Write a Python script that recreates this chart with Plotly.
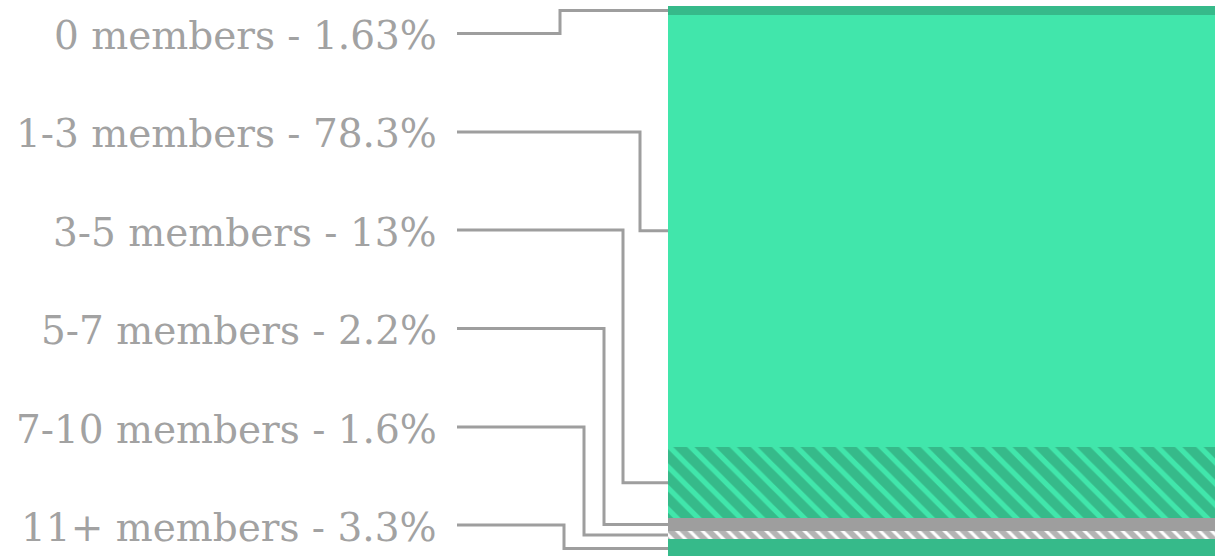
import plotly.graph_objects as go

# ---- data (bottom of stack first) ----
categories = ["11+ members", "7-10 members", "5-7 members", "3-5 members", "1-3 members", "0 members"]
values = [3.3, 1.6, 2.2, 13, 78.3, 1.63]
value_labels = ["3.3%", "1.6%", "2.2%", "13%", "78.3%", "1.63%"]

# ---- styles ----
W, H = 1215, 556
LIGHT = "#41E6AB"
DARK = "#36BA8A"
GRAY = "#9E9E9E"
TEXT = "#A2A2A2"
fills = [
    dict(color=DARK),
    dict(color="#B4B4B4", pattern=dict(shape="\\", fgcolor="#FFFFFF", bgcolor="#B4B4B4", size=9, solidity=0.35, fillmode="replace")),
    dict(color=GRAY),
    dict(color=DARK, pattern=dict(shape="\\", fgcolor=LIGHT, bgcolor=DARK, size=15, solidity=0.35, fillmode="replace")),
    dict(color=LIGHT),
    dict(color=DARK),
]

Y_MIN, Y_MAX = 0.3, 101.1
BAR_LEFT_PX = 668
LABEL_RIGHT_PX = 439
LINE_START_PX = 457
label_px = [525, 427, 328.5, 230, 132, 33.5]      # pixel rows of labels (bottom->top order)
elbow_px = [564, 584, 604, 623, 640, 560]          # vertical leader positions

fig = go.Figure()
for cat, v, f in zip(categories, values, fills):
    fig.add_trace(go.Bar(
        x=[0], y=[v], name=cat, width=1,
        marker=dict(color=f["color"], line=dict(width=0), pattern=f.get("pattern")),
        hoverinfo="skip", showlegend=False,
    ))

def px_to_y(p):
    return Y_MAX - p / H * (Y_MAX - Y_MIN)

shapes, annotations = [], []
cum = 0.0
for cat, v, lab, lp, ex in zip(categories, values, value_labels, label_px, elbow_px):
    mid = cum + v / 2
    cum += v
    ly = px_to_y(lp)
    path = (f"M {LINE_START_PX / W},{ly} L {ex / W},{ly} "
            f"L {ex / W},{mid} L {BAR_LEFT_PX / W},{mid}")
    shapes.append(dict(type="path", path=path, xref="paper", yref="y",
                       line=dict(color=GRAY, width=3), layer="above"))
    annotations.append(dict(
        x=LABEL_RIGHT_PX / W, y=1 - lp / H, xref="paper", yref="paper",
        xanchor="right", yanchor="middle", showarrow=False, yshift=-2,
        text=f"{cat} - {lab}",
        font=dict(family="DejaVu Serif", size=39, color=TEXT),
    ))

fig.update_layout(
    barmode="stack", bargap=0,
    width=W, height=H, margin=dict(l=0, r=0, t=0, b=0),
    paper_bgcolor="white", plot_bgcolor="white",
    xaxis=dict(domain=[BAR_LEFT_PX / W, 1], range=[-0.5, 0.5], visible=False, fixedrange=True),
    yaxis=dict(range=[Y_MIN, Y_MAX], visible=False, fixedrange=True),
    shapes=shapes, annotations=annotations,
)
fig.write_html("out.html", config={"displayModeBar": False})
